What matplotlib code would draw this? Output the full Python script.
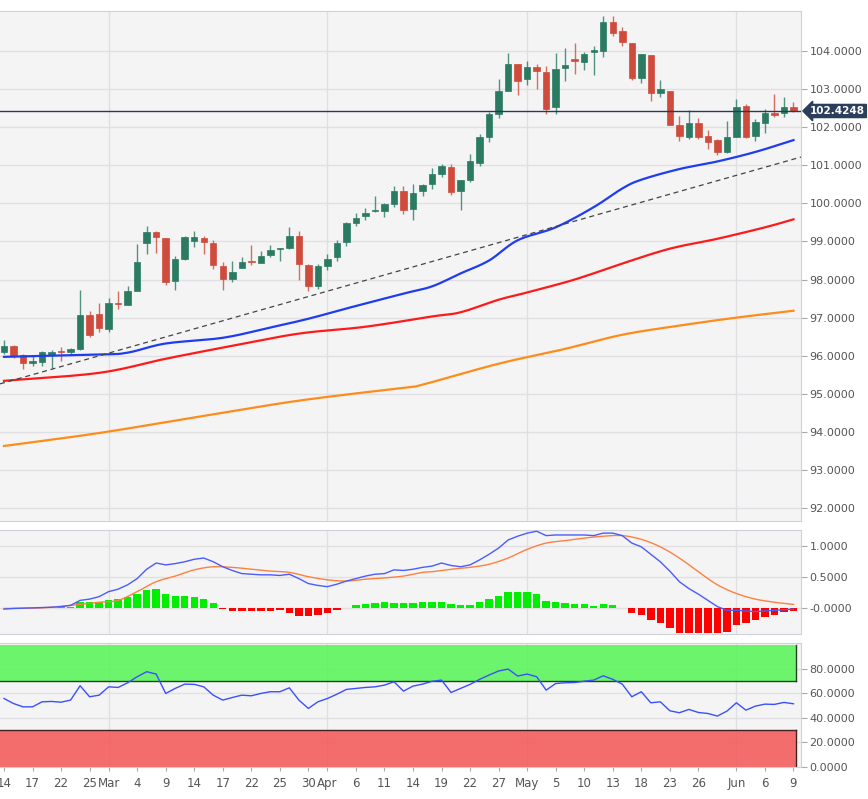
import matplotlib
matplotlib.use("Agg")
import matplotlib.pyplot as plt
import numpy as np

# ---------------- data ----------------
opens = [96.09,96.26,96.03,95.82,95.83,96.02,96.12,96.09,96.18,97.07,97.10,96.70,97.37,97.34,97.71,98.96,99.24,99.09,97.96,98.53,
         99.01,99.09,98.96,98.35,98.02,98.31,98.47,98.43,98.65,98.80,98.83,99.15,98.39,97.82,98.35,98.59,98.98,99.48,99.66,99.79,
         99.80,99.97,100.32,99.84,100.32,100.50,100.78,100.96,100.32,100.60,101.06,101.73,102.34,102.96,103.66,103.26,103.59,103.46,102.52,103.56,
         103.78,103.72,103.98,104.01,104.75,104.53,104.20,103.30,103.89,102.89,102.95,102.07,101.74,102.11,101.76,101.67,101.35,101.74,102.55,101.76,
         102.12,102.38,102.36,102.53]
closes = [96.26,96.00,95.80,95.84,96.09,96.11,96.10,96.18,97.07,96.54,96.72,97.38,97.35,97.71,98.47,99.24,99.11,97.93,98.53,99.11,
          99.11,98.98,98.37,98.02,98.21,98.47,98.45,98.61,98.78,98.82,99.13,98.41,97.82,98.35,98.54,98.97,99.48,99.62,99.75,99.81,
          99.97,100.32,99.83,100.28,100.47,100.78,100.97,100.30,100.60,101.11,101.73,102.34,102.96,103.66,103.22,103.59,103.48,102.49,103.54,103.63,
          103.74,103.92,104.03,104.75,104.48,104.23,103.28,103.91,102.89,103.00,102.07,101.76,102.10,101.74,101.61,101.35,101.74,102.53,101.74,102.14,
          102.38,102.33,102.53,102.42]
highs = [96.40,96.28,96.05,95.98,96.12,96.15,96.22,96.20,97.73,97.18,97.38,97.52,97.70,97.82,98.92,99.40,99.28,99.10,98.62,99.15,
         99.27,99.15,99.05,98.45,98.48,98.58,98.90,98.75,98.90,98.83,99.38,99.28,98.42,98.42,98.68,99.03,99.50,99.75,99.88,100.20,
         100.02,100.45,100.46,100.50,100.52,100.93,101.04,101.04,100.62,101.30,101.82,102.40,103.27,103.95,103.65,103.75,103.67,103.60,103.95,104.07,
         104.20,103.97,104.12,104.92,104.93,104.62,104.20,103.93,103.90,103.25,102.95,102.30,102.45,102.25,101.92,101.70,102.16,102.74,102.60,102.22,
         102.47,102.86,102.78,102.66]
lows = [96.05,95.95,95.65,95.72,95.72,95.68,95.85,96.05,96.15,96.50,96.62,96.62,97.22,97.32,98.40,98.66,98.70,97.85,97.72,98.50,
        98.85,98.66,98.28,97.72,97.93,98.35,98.38,98.55,98.60,98.48,98.80,97.98,97.70,97.74,98.25,98.48,98.87,99.40,99.55,99.78,
        99.65,99.90,99.72,99.55,100.20,100.38,100.70,100.22,99.82,100.55,100.97,101.60,102.25,102.94,102.85,103.12,103.00,102.35,102.35,103.20,
        103.40,103.50,103.38,103.85,104.40,104.12,103.25,103.17,102.70,102.78,102.05,101.63,101.68,101.70,101.42,101.28,101.32,101.74,101.72,101.64,
        101.85,102.26,102.27,102.39]

ma_blue_idx = [0,10,13,17,23,28,32,36,42,45,48,51,54,58,62,65,67,71,75,79,83]
ma_blue = [95.97,96.03,96.08,96.32,96.47,96.74,96.97,97.24,97.63,97.82,98.16,98.50,99.03,99.37,99.90,100.39,100.62,100.90,101.10,101.35,101.66]
ma_red_idx = [0,10,17,24,31,38,45,48,52,55,60,65,70,75,80,83]
ma_red = [95.34,95.55,95.92,96.26,96.58,96.76,97.03,97.14,97.47,97.66,98.00,98.42,98.81,99.07,99.37,99.58]
ma_orange_idx = [0,10,21,31,42,44,52,59,65,71,77,83]
ma_orange = [93.63,93.97,94.42,94.82,95.16,95.24,95.79,96.18,96.55,96.79,97.00,97.18]
trend_idx = [0, 83]
trend_val = [95.29, 101.16]
last_price = 102.4248

macd_hist = [0.00,0.00,0.01,0.01,0.01,0.01,0.02,0.02,0.10,0.10,0.11,0.13,0.16,0.19,0.23,0.30,0.32,0.23,0.20,0.20,
             0.19,0.16,0.08,-0.005,-0.04,-0.045,-0.045,-0.045,-0.04,-0.03,-0.065,-0.12,-0.12,-0.11,-0.08,-0.03,0.005,0.05,0.07,0.08,
             0.10,0.08,0.08,0.08,0.10,0.10,0.11,0.065,0.054,0.054,0.10,0.15,0.20,0.27,0.26,0.26,0.23,0.12,0.11,0.09,
             0.07,0.07,0.04,0.07,0.05,0.005,-0.08,-0.11,-0.19,-0.24,-0.32,-0.39,-0.39,-0.40,-0.40,-0.40,-0.37,-0.26,-0.24,-0.19,
             -0.14,-0.10,-0.05,-0.04]
macd_line = [-0.01,0.00,0.005,0.01,0.015,0.02,0.03,0.05,0.13,0.15,0.19,0.27,0.31,0.38,0.48,0.63,0.73,0.70,0.72,0.75,
             0.79,0.81,0.75,0.67,0.61,0.56,0.55,0.54,0.54,0.53,0.55,0.48,0.40,0.37,0.35,0.39,0.44,0.48,0.52,0.55,
             0.56,0.62,0.61,0.63,0.66,0.68,0.73,0.69,0.67,0.70,0.78,0.87,0.97,1.10,1.16,1.21,1.24,1.17,1.18,1.18,
             1.18,1.18,1.17,1.21,1.21,1.17,1.05,0.99,0.87,0.75,0.60,0.43,0.32,0.23,0.13,0.03,-0.03,-0.03,-0.04,-0.05,
             -0.04,-0.03,-0.02,-0.01]
signal_idx = [0,4,8,10,12,14,16,18,20,22,24,26,28,30,32,34,36,38,40,42,44,45,47,49,51,53,55,57,59,61,63,65,67,69,71,73,75,77,79,81,83]
signal = [0.00,0.01,0.065,0.10,0.13,0.27,0.43,0.52,0.62,0.67,0.66,0.63,0.60,0.58,0.51,0.46,0.44,0.47,0.49,0.52,0.58,0.59,0.63,0.66,0.71,0.81,0.95,1.05,1.09,1.13,1.16,1.17,1.11,0.99,0.81,0.59,0.38,0.24,0.15,0.10,0.065]

rsi = [55.8,51.7,49.0,49.0,53.1,53.4,52.8,54.5,66.2,57.2,58.5,65.3,64.8,68.6,73.5,77.6,75.7,59.9,64.0,67.5,
       67.3,65.3,58.5,54.5,56.6,58.5,58.0,59.9,61.3,61.3,64.5,54.5,47.7,53.1,55.8,59.3,63.2,64.0,64.8,65.3,
       66.7,69.4,61.8,65.9,67.5,69.8,70.8,60.7,64.0,67.3,71.4,74.9,78.2,79.8,74.1,75.7,73.5,62.6,68.0,68.6,
       68.8,69.9,70.8,74.3,71.4,67.5,57.2,61.3,52.3,53.1,45.8,44.2,46.9,44.4,43.6,41.5,45.5,52.3,46.3,49.6,
       51.2,51.0,52.6,51.5]

tick_idx = [0,3,6,9,11,14,17,20,23,26,29,32,34,37,40,43,46,49,52,55,58,61,64,67,70,73,77,80,83]
tick_labels = ["14","17","22","25","Mar","4","9","14","17","22","25","30","Apr","6","11","14","19","22","27","May","5","10","13","18","23","26","Jun","6","9"]
month_idx = [11,34,55,77]


def smooth(xs, ys, n=12):
    """Catmull-Rom curve through the given points (drawing only)."""
    xs = np.asarray(xs, float); ys = np.asarray(ys, float)
    px = np.concatenate([[2*xs[0]-xs[1]], xs, [2*xs[-1]-xs[-2]]])
    py = np.concatenate([[2*ys[0]-ys[1]], ys, [2*ys[-1]-ys[-2]]])
    ox, oy = [], []
    t = np.linspace(0, 1, n, endpoint=False)
    for i in range(1, len(px)-2):
        for P, out in ((px, ox), (py, oy)):
            p0, p1, p2, p3 = P[i-1], P[i], P[i+1], P[i+2]
            out.extend(0.5*((2*p1) + (-p0+p2)*t + (2*p0-5*p1+4*p2-p3)*t**2 + (-p0+3*p1-3*p2+p3)*t**3))
    ox.append(xs[-1]); oy.append(ys[-1])
    return ox, oy

# ---------------- layout ----------------
W, H = 868, 799
fig = plt.figure(figsize=(W/100, H/100), dpi=100)
fig.patch.set_facecolor("white")

def rect(x0, y0, x1, y1):
    return [x0/W, 1-y1/H, (x1-x0)/W, (y1-y0)/H]

BG = "#f4f4f4"
GRID = "#e0e0e4"
TXT = "#555555"
FS = 8
xl = (-0.42, 83.79)

ax = fig.add_axes(rect(0, 11, 801, 521))
ax2 = fig.add_axes(rect(0, 530, 801, 634))
ax3 = fig.add_axes(rect(0, 643, 801, 767))

for a in (ax, ax2, ax3):
    a.set_facecolor(BG)
    a.set_xlim(*xl)
    for s in a.spines.values():
        s.set_color("#d0d0d8")
    a.spines["left"].set_visible(False)
    a.yaxis.tick_right()
    a.tick_params(axis="y", colors=TXT, labelsize=FS, length=4, color="#aaaaaa", pad=2)
    a.set_xticks(tick_idx)
    a.tick_params(axis="x", length=0, labelbottom=False)
    for m in month_idx:
        a.axvline(m, color=GRID, lw=1, zorder=0)
    a.set_axisbelow(True)

# main panel
ax.set_ylim(91.66, 105.05)
yt = np.arange(92, 105, 1.0)
ax.set_yticks(yt)
ax.set_yticklabels([f"{v:.4f}" for v in yt])
for v in yt:
    ax.axhline(v, color=GRID, lw=1, zorder=0)

GREEN = "#2b7a62"
RED = "#cf4b3c"
x = np.arange(len(closes))
for i in x:
    o, c, h, l = opens[i], closes[i], highs[i], lows[i]
    col = GREEN if c >= o else RED
    ax.vlines(i, l, h, color=col, lw=1, alpha=0.8, zorder=3)
    b = max(abs(c - o), 0.03)
    ax.bar(i, b, bottom=min(o, c), width=0.68, color=col, edgecolor=col, lw=0.5, zorder=4)

ax.plot(*smooth(ma_orange_idx, ma_orange), color="#ff8c1a", lw=1.6, zorder=5)
ax.plot(*smooth(ma_red_idx, ma_red), color="#ff1a1a", lw=1.6, zorder=5)
ax.plot(*smooth(ma_blue_idx, ma_blue), color="#1f3cf0", lw=1.6, zorder=5)
ax.axline((trend_idx[0], trend_val[0]), (trend_idx[1], trend_val[1]), color="#444444", lw=0.9, ls=(0, (4, 3)), zorder=5)
ax.axhline(last_price, color="#2b3a52", lw=1, zorder=6)
ax.text(1.011, last_price, f"{last_price:.4f}", transform=ax.get_yaxis_transform(), va="center", ha="left",
        fontsize=7.5, fontweight="bold", color="white", zorder=10, clip_on=False,
        bbox=dict(boxstyle="larrow,pad=0.15", fc="#2b3f5c", ec="#2b3f5c"))

# MACD panel
ax2.set_ylim(-0.41, 1.26)
ax2.set_yticks([0, 0.5, 1.0])
ax2.set_yticklabels(["-0.0000", "0.5000", "1.0000"])
for v in [0, 0.5, 1.0]:
    ax2.axhline(v, color=GRID, lw=1, zorder=0)
hcol = ["#00ee00" if v >= 0 else "#ff0000" for v in macd_hist]
ax2.bar(x, macd_hist, width=0.78, color=hcol, zorder=3)
ax2.plot(*smooth(signal_idx, signal, 6), color="#ff8040", lw=1.0, zorder=4)
ax2.plot(x, macd_line, color="#4a5cff", lw=1.0, zorder=5)

# RSI panel
ax3.set_ylim(0, 101)
ax3.set_yticks([0, 20, 40, 60, 80])
ax3.set_yticklabels([f"{v:.4f}" for v in [0, 20, 40, 60, 80]])
for v in [20, 40, 60, 80]:
    ax3.axhline(v, color=GRID, lw=1, zorder=0)
ax3.fill_between([xl[0], 83.3], 70, 99.2, color="#55f555", alpha=0.85, lw=0, zorder=1)
ax3.fill_between([xl[0], 83.3], 0, 30, color="#f55555", alpha=0.85, lw=0, zorder=1)
ax3.plot([xl[0], 83.3], [70, 70], color="#224422", lw=1, zorder=2)
ax3.plot([xl[0], 83.3], [30, 30], color="#442222", lw=1, zorder=2)
ax3.plot([83.3, 83.3], [70, 99.2], color="#224422", lw=1, zorder=2)
ax3.plot([83.3, 83.3], [0, 30], color="#442222", lw=1, zorder=2)
ax3.plot(x, rsi, color="#3a50ff", lw=1.0, zorder=5)
ax3.tick_params(axis="x", labelbottom=True, length=3, color="#aaaaaa", labelsize=FS+0.5, labelcolor=TXT, pad=4)
ax3.set_xticklabels(tick_labels)

fig.savefig("out.png", dpi=100)
